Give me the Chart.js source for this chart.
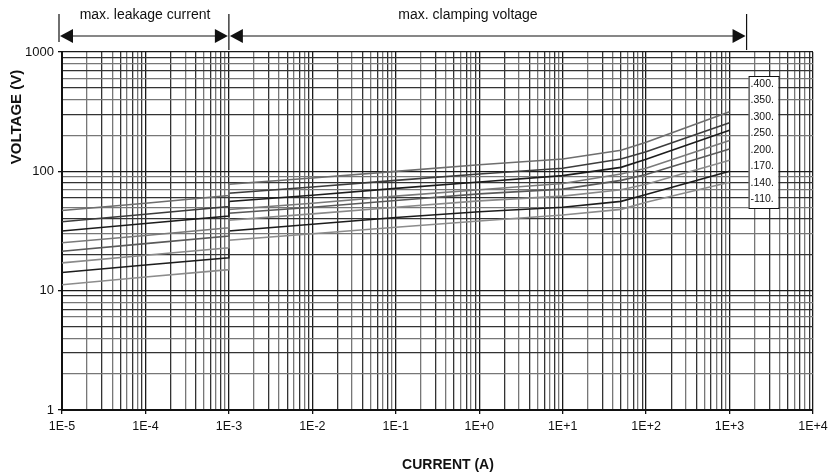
<!DOCTYPE html>
<html>
<head>
<meta charset="utf-8">
<script src="https://cdn.jsdelivr.net/npm/chart.js@4.4.1/dist/chart.umd.min.js"></script>
<style>
    html, body { margin: 0; padding: 0; background: #ffffff; }
</style>
</head>
<body>
<canvas id="graficoVaristor" width="837" height="476"></canvas>
<script>
/* Valores (corrente em A, tensão em V) */
// Pontos de corrente da região de fuga e da região de grampeamento
const correnteFuga = [1e-5, 1e-4, 1e-3];
const correnteGrampo = [1e-3, 1e-2, 1e-1, 1, 10, 50, 100, 1000];

// Tensão de cada modelo na região de fuga
const fuga400 = [46.9, 54, 62.7];
const fuga350 = [37.8, 43.7, 50.6];
const fuga300 = [31.6, 36.5, 42.2];
const fuga250 = [25.2, 29, 33.7];
const fuga200 = [21.4, 24.8, 28.7];
const fuga170 = [17.1, 19.8, 22.9];
const fuga140 = [14.2, 16.4, 18.9];
const fuga110 = [11.2, 13, 15];

// Tensão de cada modelo na região de grampeamento
const grampo400 = [78, 88, 100, 113.6, 127, 150, 175, 316];
const grampo350 = [65.5, 74, 84, 95, 106, 127, 146, 255];
const grampo300 = [56, 63, 72, 81.3, 92, 108, 126, 221];
const grampo250 = [48, 54, 62, 70, 79, 95, 106, 181];
const grampo200 = [44.6, 50, 57, 64.7, 71, 84, 94, 154];
const grampo170 = [39, 44, 50, 56.5, 62, 70, 78, 124];
const grampo140 = [31.7, 36, 41, 45.9, 50, 56, 64, 100];
const grampo110 = [26.5, 30, 34, 38.4, 43, 48, 55, 81];

// Rótulos da legenda e dos eixos
const rotulosLegenda = [".400.", ".350.", ".300.", ".250.", ".200.", ".170.", ".140.", "-110."];
const rotulosX = ["1E-5", "1E-4", "1E-3", "1E-2", "1E-1", "1E+0", "1E+1", "1E+2", "1E+3", "1E+4"];
const rotulosY = ["1", "10", "100", "1000"];

// Agrupa as séries na mesma ordem da legenda
const fugas = [fuga400, fuga350, fuga300, fuga250, fuga200, fuga170, fuga140, fuga110];
const grampos = [grampo400, grampo350, grampo300, grampo250, grampo200, grampo170, grampo140, grampo110];

// Cores das curvas (preto e cinza alternados, como no original)
const coresCurvas = ["#6e6e6e", "#3c3c3c", "#1c1c1c", "#7a7a7a", "#5a5a5a", "#8a8a8a", "#1c1c1c", "#8c8c8c"];

const fonte = "'Liberation Sans', Arial, Helvetica, sans-serif";

/* Verifica se o valor é uma potência de 10 */
function ehDecada(v) {
    const e = Math.log10(v);
    return Math.abs(e - Math.round(e)) < 1e-9;
}

/* Gera os ticks 1..9 x 10^k entre duas décadas (linhas da grade) */
function ticksLog(expIni, expFim) {
    const ticks = [];
    for (let e = expIni; e < expFim; e++) {
        for (let m = 1; m <= 9; m++) {
            ticks.push({ value: m * Math.pow(10, e) });
        }
    }
    ticks.push({ value: Math.pow(10, expFim) });
    return ticks;
}

/* Cor das linhas da grade: décadas escuras, demais alternando */
function corGrade(ctx) {
    if (!ctx.tick) return "#333333";
    if (ehDecada(ctx.tick.value)) return "#1a1a1a";
    return ctx.index % 2 ? "#777777" : "#333333";
}

/* Monta os datasets: trecho de fuga seguido do trecho de grampeamento */
const datasets = rotulosLegenda.map((rotulo, i) => ({
    label: rotulo,
    data: [
        ...correnteFuga.map((c, j) => ({ x: c, y: fugas[i][j] })),
        ...correnteGrampo.map((c, j) => ({ x: c, y: grampos[i][j] })),
    ],
    borderColor: coresCurvas[i],
    borderWidth: 1.6,
    pointRadius: 0,
    tension: 0,
    fill: false,
}));

/* Seta preenchida com a ponta em (x, y) */
function seta(ctx, x, y, direcao) {
    ctx.beginPath();
    ctx.moveTo(x, y);
    ctx.lineTo(x + direcao * 13, y - 7);
    ctx.lineTo(x + direcao * 13, y + 7);
    ctx.closePath();
    ctx.fill();
}

/* Plugin com fundo, faixas superiores, legenda e títulos dos eixos */
const anotacoes = {
    id: "anotacoes",
    beforeDraw(chart) {
        const ctx = chart.ctx;
        ctx.save();
        ctx.fillStyle = "#ffffff";
        ctx.fillRect(0, 0, chart.width, chart.height);
        ctx.restore();
    },
    afterDraw(chart) {
        const ctx = chart.ctx;
        const area = chart.chartArea;
        const escalaX = chart.scales.x;
        const xIni = escalaX.getPixelForValue(1e-5) - 3;
        const xMeio = escalaX.getPixelForValue(1e-3);
        const xFim = escalaX.getPixelForValue(1.6e3);
        const ySeta = 36;

        ctx.save();
        ctx.strokeStyle = "#111111";
        ctx.fillStyle = "#111111";
        ctx.lineWidth = 1.2;

        // Linhas verticais que delimitam as faixas
        ctx.beginPath();
        ctx.moveTo(xIni, 14); ctx.lineTo(xIni, 42);
        ctx.moveTo(xMeio, 14); ctx.lineTo(xMeio, area.top - 2);
        ctx.moveTo(xFim, 14); ctx.lineTo(xFim, area.top - 2);
        ctx.stroke();

        // Linhas horizontais das setas
        ctx.beginPath();
        ctx.moveTo(xIni + 10, ySeta); ctx.lineTo(xMeio - 10, ySeta);
        ctx.moveTo(xMeio + 10, ySeta); ctx.lineTo(xFim - 10, ySeta);
        ctx.stroke();

        seta(ctx, xIni + 1, ySeta, 1);
        seta(ctx, xMeio - 1, ySeta, -1);
        seta(ctx, xMeio + 1, ySeta, 1);
        seta(ctx, xFim - 1, ySeta, -1);

        // Textos das faixas
        ctx.font = "14px " + fonte;
        ctx.textAlign = "center";
        ctx.textBaseline = "alphabetic";
        ctx.fillText("max. leakage current", 145, 19);
        ctx.fillText("max. clamping voltage", 468, 19);

        // Caixa da legenda
        const caixaX = xFim + 2;
        const caixaY = area.top + 24;
        const caixaL = 30;
        const caixaA = 132;
        ctx.fillStyle = "#ffffff";
        ctx.fillRect(caixaX, caixaY, caixaL, caixaA);
        ctx.lineWidth = 1;
        ctx.strokeRect(caixaX + 0.5, caixaY + 0.5, caixaL, caixaA);
        ctx.fillStyle = "#111111";
        ctx.font = "10.5px " + fonte;
        ctx.textAlign = "left";
        ctx.textBaseline = "middle";
        rotulosLegenda.forEach((rotulo, i) => {
            ctx.fillText(rotulo, caixaX + 2, caixaY + 8 + i * 16.5);
        });

        // Títulos dos eixos
        ctx.font = "bold 14px " + fonte;
        ctx.textAlign = "center";
        ctx.fillText("CURRENT (A)", 448, 465);
        ctx.translate(17, 117);
        ctx.rotate(-Math.PI / 2);
        ctx.font = "bold 15px " + fonte;
        ctx.fillText("VOLTAGE (V)", 0, 0);
        ctx.restore();
    },
};

/* Cria o gráfico */
const ctxGrafico = document.getElementById("graficoVaristor").getContext("2d");
new Chart(ctxGrafico, {
    type: "line",
    data: { datasets },
    plugins: [anotacoes],
    options: {
        responsive: false,
        animation: false,
        devicePixelRatio: 1,
        layout: { padding: { left: 22, right: 24, top: 52, bottom: 36 } },
        plugins: {
            legend: { display: false },
            tooltip: { enabled: false },
        },
        scales: {
            x: {
                type: "logarithmic",
                min: 1e-5,
                max: 1e4,
                afterBuildTicks: (escala) => { escala.ticks = ticksLog(-5, 4); },
                afterFit: (escala) => { escala.height = 30; },
                ticks: {
                    autoSkip: false,
                    maxRotation: 0,
                    padding: 5,
                    color: "#111111",
                    font: { family: fonte, size: 12.5 },
                    callback: (v) => (ehDecada(v) ? rotulosX[Math.round(Math.log10(v)) + 5] : ""),
                },
                grid: {
                    color: corGrade,
                    lineWidth: 1.3,
                    tickLength: 4,
                    tickColor: (c) => (c.tick && ehDecada(c.tick.value) ? "#111111" : "rgba(0,0,0,0)"),
                },
                border: { color: "#111111", width: 2 },
            },
            y: {
                type: "logarithmic",
                min: 1,
                max: 1000,
                afterBuildTicks: (escala) => { escala.ticks = ticksLog(0, 3); },
                afterFit: (escala) => { escala.width = 40; },
                ticks: {
                    autoSkip: false,
                    padding: 4,
                    color: "#111111",
                    font: { family: fonte, size: 13 },
                    callback: (v) => (ehDecada(v) ? rotulosY[Math.round(Math.log10(v))] : ""),
                },
                grid: {
                    color: corGrade,
                    lineWidth: 1.3,
                    tickLength: 4,
                    tickColor: (c) => (c.tick && ehDecada(c.tick.value) ? "#111111" : "rgba(0,0,0,0)"),
                },
                border: { color: "#111111", width: 2 },
            },
        },
    },
});
</script>
</body>
</html>
